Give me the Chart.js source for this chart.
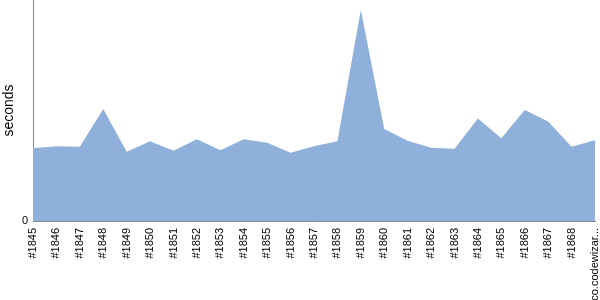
<!DOCTYPE html>
<html>
<head>
<meta charset="utf-8">
<script src="https://cdn.jsdelivr.net/npm/chart.js@4/dist/chart.umd.min.js"></script>
<style>
  html, body { margin: 0; padding: 0; background: #fff; }
  #grafica { display: block; }
</style>
</head>
<body>
<canvas id="grafica" width="600" height="300"></canvas>
<script>
// builds, de izquierda a derecha
const builds = ['#1845','#1846','#1847','#1848','#1849','#1850','#1851','#1852','#1853',
                '#1854','#1855','#1856','#1857','#1858','#1859','#1860','#1861','#1862',
                '#1863','#1864','#1865','#1866','#1867','#1868','co.codewizar...'];

// duracion estimada (segundos)
const segundos = [145, 149, 148, 223, 138, 159, 140, 163, 141, 163, 156, 136, 149, 159,
                  420, 183, 160, 146, 144, 204, 165, 221, 198, 148, 161];

const yMin = 0;
const yMax = 440;
const yTicks = [0];

const grisEje = '#8a8a8a';
const fuente  = "'Liberation Sans', Arial, sans-serif";

new Chart(document.getElementById('grafica'), {
  type: 'line',
  data: {
    labels: builds,
    datasets: [{
      label:           'seconds',
      data:            segundos,
      backgroundColor: '#8eb0da',
      borderColor:     '#8eb0da',
      borderWidth:     0,
      pointRadius:     0,
      tension:         0,
      fill:            'origin',
    }],
  },
  options: {
    responsive: false,
    animation: false,
    layout: { padding: { left: 0, right: 5, top: 0, bottom: 0 } },
    plugins: { legend: { display: false }, tooltip: { enabled: false } },
    scales: {
      x: {
        offset: false,
        grid:   { display: false, drawTicks: false },
        border: { display: true, color: grisEje, width: 1 },
        ticks: {
          autoSkip: false, minRotation: 90, maxRotation: 90, padding: 7,
          color: '#000', font: { family: fuente, size: 11 },
        },
        afterFit: (axis) => {
          axis.height = 79;
          axis.paddingLeft = 0;
          axis.paddingRight = 0;
        },
      },
      y: {
        min: yMin, max: yMax,
        grid:   { display: false, drawTicks: false },
        border: { display: true, color: grisEje, width: 1 },
        ticks:  { padding: 5, color: '#000', font: { family: fuente, size: 11 } },
        afterBuildTicks: (axis) => { axis.ticks = yTicks.map(v => ({ value: v })); },
        title: {
          display: true, text: 'seconds', color: '#000',
          font: { family: fuente, size: 14 }, padding: { top: 1, bottom: 0 },
        },
        afterFit: (axis) => {
          axis.width = 33;
          axis.paddingTop = 0;
          axis.paddingBottom = 0;
        },
      },
    },
  },
});
</script>
</body>
</html>
